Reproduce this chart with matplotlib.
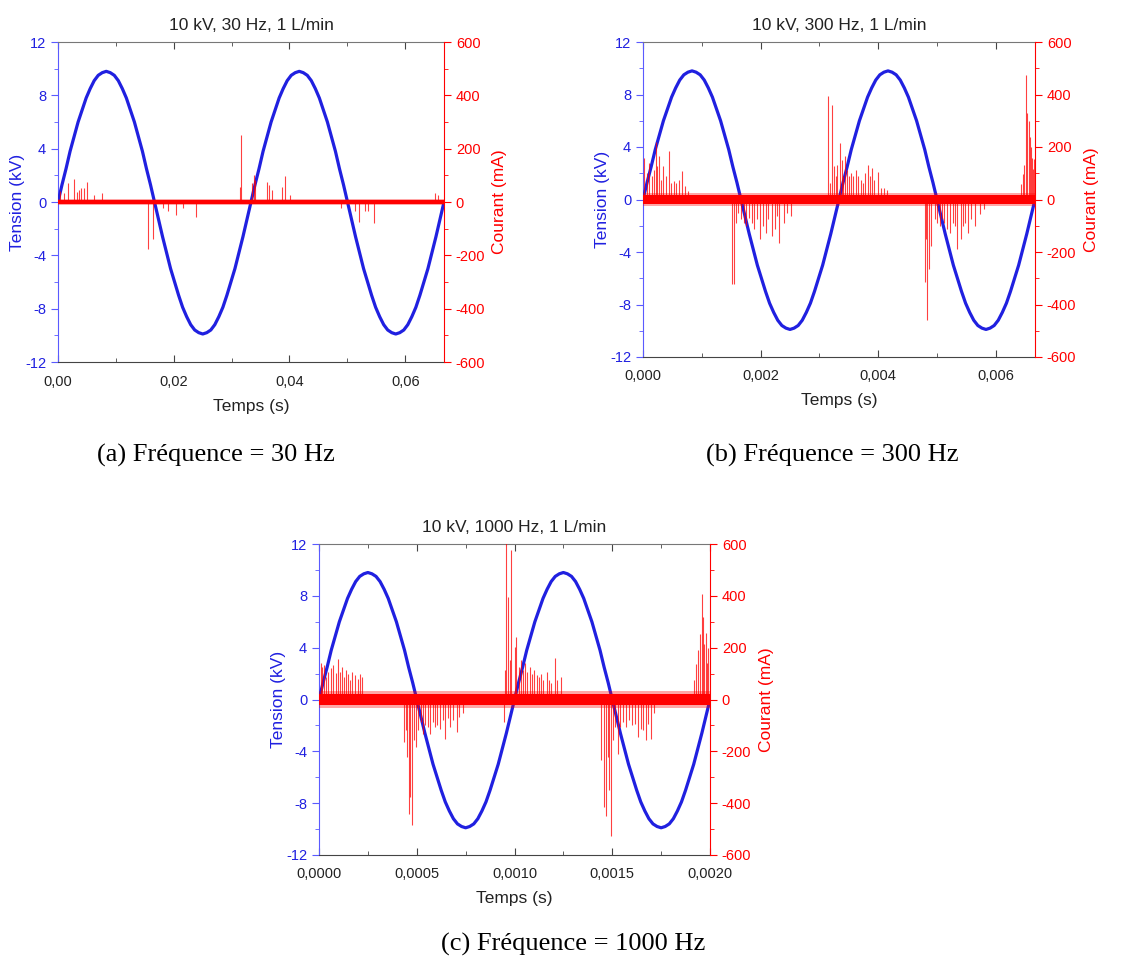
import numpy as np
import matplotlib
matplotlib.use("Agg")
import matplotlib.pyplot as plt
from matplotlib.ticker import MultipleLocator

plt.rcParams['font.family'] = ['Liberation Sans', 'DejaVu Sans']

# tension (kV) lue tous les 1/48 de période (une période)
tension_periode = [0, 1.3, 2.5, 3.8, 4.9, 6.0, 6.9, 7.8, 8.5, 9.1, 9.5, 9.7,
                   9.8, 9.7, 9.5, 9.1, 8.5, 7.8, 6.9, 6.0, 4.9, 3.8, 2.5, 1.3,
                   0, -1.3, -2.6, -3.8, -5.0, -6.0, -7.0, -7.9, -8.6, -9.2, -9.6, -9.8,
                   -9.9, -9.8, -9.6, -9.2, -8.6, -7.9, -7.0, -6.0, -5.0, -3.8, -2.6, -1.3]
tension_kv = tension_periode + tension_periode + [0]

titres = ['10 kV, 30 Hz, 1 L/min', '10 kV, 300 Hz, 1 L/min', '10 kV, 1000 Hz, 1 L/min']
legendes = ['(a) Fréquence = 30 Hz', '(b) Fréquence = 300 Hz', '(c) Fréquence = 1000 Hz']
t_fin = [0.0667, 0.00667, 0.002]
bruit_ma = [8, 17, 22]

xticks_a = [0, 0.02, 0.04, 0.06]
xlabels_a = ['0,00', '0,02', '0,04', '0,06']
xticks_b = [0, 0.002, 0.004, 0.006]
xlabels_b = ['0,000', '0,002', '0,004', '0,006']
xticks_c = [0, 0.0005, 0.001, 0.0015, 0.002]
xlabels_c = ['0,0000', '0,0005', '0,0010', '0,0015', '0,0020']
yticks_kv = [-12, -8, -4, 0, 4, 8, 12]
yticks_ma = [-600, -400, -200, 0, 200, 400, 600]

# pics de courant (s, mA)
t_pics_a = [0.0003, 0.00104, 0.00172, 0.00276, 0.00328, 0.0037, 0.00406, 0.00453, 0.00505, 0.00625, 0.00766,
            0.01547, 0.01641, 0.01823, 0.01902, 0.02032, 0.02162, 0.02386,
            0.0315, 0.03162, 0.0335, 0.03386, 0.03412, 0.0362, 0.03646, 0.03698, 0.0387, 0.03922, 0.0401,
            0.04896, 0.0513, 0.05193, 0.05313, 0.0535, 0.05454, 0.0651, 0.0656]
i_pics_a = [40, 32, 73, 86, 38, 44, 51, 53, 76, 25, 32,
            -175, -137, -23, -35, -48, -23, -57,
            57, 253, 70, 101, 82, 76, 63, 44, 57, 99, 28,
            -23, -32, -76, -32, -35, -78, 33, 28]

t_pics_b = [0.000011, 0.000065, 0.000109, 0.000147, 0.000185, 0.000217, 0.000245, 0.000272, 0.00031, 0.000348,
            0.000391, 0.000435, 0.000473, 0.000527, 0.000565, 0.00062, 0.000663, 0.000707, 0.000761,
            0.001522, 0.001543, 0.001576, 0.001614, 0.001668, 0.001723, 0.001761, 0.001804, 0.001848, 0.001886,
            0.00194, 0.001995, 0.002049, 0.002087, 0.00213, 0.002201, 0.002239, 0.002277, 0.002321, 0.002402,
            0.002457, 0.002522,
            0.003154, 0.003186, 0.003224, 0.00325, 0.003277, 0.003303, 0.003357, 0.003383, 0.00341, 0.003436,
            0.003463, 0.003506, 0.003543, 0.00358, 0.003623, 0.003665, 0.003703, 0.003745, 0.003783, 0.00382,
            0.003862, 0.003889, 0.003932, 0.003996, 0.004049, 0.004102, 0.004145,
            0.00479, 0.00482, 0.00484, 0.00487, 0.0049, 0.004965, 0.005007, 0.00505, 0.005087, 0.005124,
            0.005167, 0.00522, 0.005274, 0.005316, 0.00535, 0.005407, 0.005444, 0.005487, 0.005529, 0.005582,
            0.005646, 0.005726, 0.005806,
            0.00643, 0.00646, 0.00649, 0.00652, 0.00654, 0.00656, 0.00658, 0.0066, 0.00662, 0.00664, 0.00666]
i_pics_b = [158, 101, 139, 89, 114, 218, 127, 165, 76, 127,
            89, 184, 63, 70, 63, 76, 108, 51, 32,
            -323, -320, -89, -51, -76, -89, -101, -70, -89, -114,
            -76, -152, -101, -127, -76, -139, -114, -63, -165, -89,
            -51, -63,
            395, 63, 361, 127, 89, 133, 215, 152, 89, 165,
            114, 89, 101, 89, 114, 89, 76, 63, 101, 133,
            89, 120, 76, 104, 44, 44, 38,
            -316, -152, -458, -266, -177, -76, -89, -101, -76, -89,
            -114, -127, -89, -101, -187, -152, -101, -89, -127, -76,
            -101, -57, -38,
            60, 99, 130, 474, 330, 300, 240, 200, 160, 118, 156]

t_pics_c = [0.000008, 0.000016, 0.000024, 0.000037, 0.000048, 0.00006, 0.000073, 0.000085, 0.000097, 0.000108,
            0.000118, 0.000129, 0.00014, 0.00015, 0.000161, 0.000169, 0.000185, 0.000198, 0.00021, 0.000218,
            0.000435, 0.000444, 0.000452, 0.00046, 0.000468, 0.000476, 0.000484, 0.000495, 0.000508, 0.000521,
            0.000532, 0.000544, 0.000556, 0.000569, 0.000581, 0.000592, 0.000605, 0.000621, 0.000634, 0.000645,
            0.000658, 0.000669, 0.000685, 0.000705, 0.000718, 0.000737,
            0.000945, 0.00095, 0.000955, 0.000968, 0.000975, 0.00098, 0.001, 0.001008, 0.001023, 0.001031,
            0.001044, 0.001055, 0.001066, 0.001078, 0.001091, 0.001102, 0.001113, 0.001125, 0.001138, 0.001148,
            0.001164, 0.001175, 0.001188, 0.001206, 0.001219, 0.001238,
            0.001445, 0.001456, 0.001469, 0.001477, 0.001484, 0.001492, 0.001503, 0.001516, 0.001528, 0.001539,
            0.001555, 0.00157, 0.001586, 0.001602, 0.001617, 0.001633, 0.001648, 0.001659, 0.001672, 0.001684,
            0.0017, 0.001716,
            0.00192, 0.00193, 0.00194, 0.00195, 0.001958, 0.001963, 0.00197, 0.001977, 0.001985, 0.001992, 0.001998]
i_pics_c = [139, 126, 133, 88, 107, 120, 133, 101, 155, 107,
            126, 88, 114, 100, 75, 107, 94, 81, 100, 88,
            -164, -119, -222, -440, -377, -486, -157, -183, -119, -87,
            -132, -99, -106, -132, -87, -106, -99, -112, -80, -151,
            -73, -106, -80, -125, -67, -54,
            -86, 114, 620, 397, 152, 578, 204, 243, 126, 152,
            114, 139, 107, 126, 100, 114, 94, 88, 100, 75,
            107, 75, 62, 159, 75, 88,
            -235, -415, -448, -222, -351, -528, -157, -106, -209, -106,
            -86, -106, -80, -99, -93, -145, -112, -119, -157, -93,
            -151, -54,
            75, 138, 190, 254, 409, 319, 216, 255, 140, 200, 150]

xticks = [xticks_a, xticks_b, xticks_c]
xlabels = [xlabels_a, xlabels_b, xlabels_c]
t_pics = [t_pics_a, t_pics_b, t_pics_c]
i_pics = [i_pics_a, i_pics_b, i_pics_c]

W, H = 1146, 959
# boites des axes en pixels: gauche, droite, haut, bas
boites = [(58, 444, 42, 362), (643, 1035, 42, 357), (319, 710, 544, 855)]

bleu = '#2020e0'
bleu_axe = '#5a5aff'
rouge = '#ff0000'

fig = plt.figure(figsize=(W / 100, H / 100), dpi=100)

for k in range(3):
    g, d, h, b = boites[k]
    ax = fig.add_axes([g / W, 1 - b / H, (d - g) / W, (b - h) / H])
    ax2 = ax.twinx()

    t_v = np.linspace(0, t_fin[k], len(tension_kv))
    ax.plot(t_v, tension_kv, color=bleu, lw=2.3, zorder=3, solid_joinstyle='round')

    n = bruit_ma[k]
    ax2.fill_between([0, t_fin[k]], [-1.5 * n] * 2, [1.5 * n] * 2, color=rouge, alpha=0.35, lw=0, zorder=2)
    ax2.fill_between([0, t_fin[k]], [-n] * 2, [n] * 2, color=rouge, lw=0, zorder=2)
    ax2.vlines(t_pics[k], 0, i_pics[k], color=rouge, lw=0.8, alpha=0.75, zorder=2)

    ax.set_xlim(0, t_fin[k])
    ax.set_ylim(-12, 12)
    ax2.set_ylim(-600, 600)

    ax.set_xticks(xticks[k])
    ax.set_xticklabels(xlabels[k], fontsize=10.5, color='#222222')
    ax.xaxis.set_minor_locator(MultipleLocator(xticks[k][1] / 2))
    ax.set_yticks(yticks_kv)
    ax.set_yticklabels([str(v) for v in yticks_kv], fontsize=10.5, color=bleu)
    ax.yaxis.set_minor_locator(MultipleLocator(2))
    ax2.set_yticks(yticks_ma)
    ax2.set_yticklabels([str(v) for v in yticks_ma], fontsize=10.5, color=rouge)
    ax2.yaxis.set_minor_locator(MultipleLocator(100))

    ax.tick_params(axis='x', which='both', direction='in', top=True, colors='#444444',
                   labelcolor='#222222', pad=9)
    ax.tick_params(axis='x', which='major', length=5)
    ax.tick_params(axis='x', which='minor', length=3)
    ax.tick_params(axis='y', which='both', direction='out', colors=bleu_axe, labelcolor=bleu)
    ax.tick_params(axis='y', which='major', length=5)
    ax.tick_params(axis='y', which='minor', length=3)
    ax2.tick_params(axis='y', which='both', direction='out', colors=rouge, labelcolor=rouge)
    ax2.tick_params(axis='y', which='major', length=5)
    ax2.tick_params(axis='y', which='minor', length=3)

    ax.spines['left'].set_color(bleu_axe)
    ax.spines['bottom'].set_color('#444444')
    ax.spines['top'].set_color('#777777')
    ax.spines['right'].set_visible(False)
    ax2.spines['right'].set_color(rouge)
    ax2.spines['left'].set_visible(False)
    ax2.spines['top'].set_visible(False)
    ax2.spines['bottom'].set_visible(False)

    ax.set_title(titres[k], fontsize=12.5, pad=9, color='#222222')
    ax.set_xlabel('Temps (s)', fontsize=12.5, color='#222222')
    ax.set_ylabel('Tension (kV)', fontsize=12.5, color=bleu)
    ax2.set_ylabel('Courant (mA)', fontsize=12.5, color=rouge)
    ax.xaxis.set_label_coords(0.5, -0.115)
    ax.yaxis.set_label_coords(-0.085, 0.5)
    ax2.yaxis.set_label_coords(1.125, 0.5)

fig.text(216 / W, 1 - 455 / H, legendes[0], ha='center', va='center', fontsize=19, family=['Liberation Serif'])
fig.text(832 / W, 1 - 455 / H, legendes[1], ha='center', va='center', fontsize=19, family=['Liberation Serif'])
fig.text(573 / W, 1 - 944 / H, legendes[2], ha='center', va='center', fontsize=19, family=['Liberation Serif'])

fig.savefig('out.png', dpi=100)
